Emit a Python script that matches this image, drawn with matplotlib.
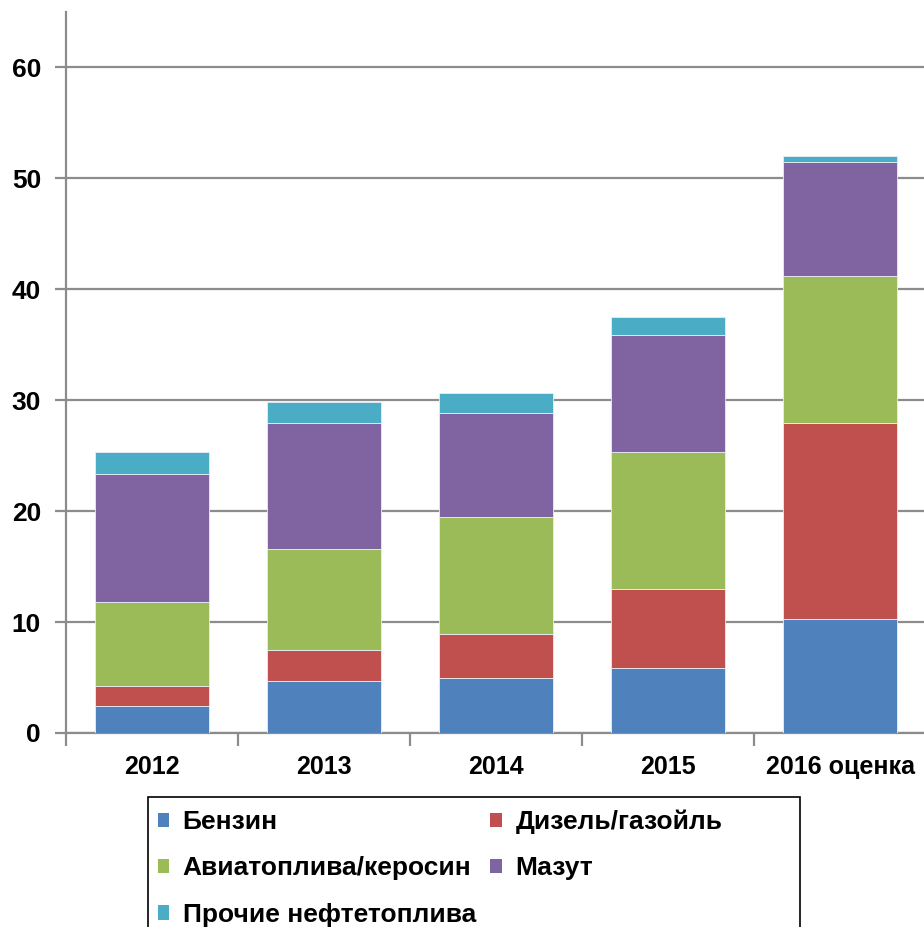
import matplotlib
matplotlib.use('Agg')
import matplotlib.pyplot as plt
import numpy as np
from matplotlib.patches import Patch, Rectangle

plt.rcParams['font.family'] = ['Liberation Sans', 'DejaVu Sans']

# =============================================
# Данные
# =============================================
years = ['2012', '2013', '2014', '2015', '2016 оценка']
benzin = [2.4, 4.65, 4.95, 5.85, 10.3]
dizel = [1.85, 2.8, 4.0, 7.17, 17.62]
avia = [7.53, 9.1, 10.5, 12.33, 13.24]
mazut = [11.59, 11.38, 9.39, 10.53, 10.35]
prochie = [1.93, 1.9, 1.83, 1.62, 0.55]

series = [
    ('Бензин', benzin, '#4F81BD'),
    ('Дизель/газойль', dizel, '#C0504D'),
    ('Авиатоплива/керосин', avia, '#9BBB59'),
    ('Мазут', mazut, '#8064A2'),
    ('Прочие нефтетоплива', prochie, '#4BACC6'),
]

W, H = 924, 927
fig = plt.figure(figsize=(W / 100, H / 100), dpi=100)
ax = fig.add_axes([66/W, 1 - 733/H, 860/W, (733 - 12)/H])

x = np.arange(len(years))
bottom = np.zeros(len(years))
handles = []
for name, vals, color in series:
    ax.bar(x, vals, width=0.66, bottom=bottom, color=color,
           edgecolor='#e8eef5', linewidth=0.6, zorder=3)
    bottom += np.array(vals)
    handles.append(Patch(facecolor=color, label=name))

ax.set_xlim(-0.5, 4.5)
ax.set_ylim(0, 65)
ax.set_yticks([0, 10, 20, 30, 40, 50, 60])
ax.yaxis.grid(True, color='#8c8c8c', linewidth=1.6, zorder=0)

for s in ['top', 'right']:
    ax.spines[s].set_visible(False)
for s in ['left', 'bottom']:
    ax.spines[s].set_color('#8c8c8c')
    ax.spines[s].set_linewidth(1.6)

ax.set_xticks(x)
ax.set_xticklabels(years, fontsize=18, fontweight='bold')
ax.tick_params(axis='x', length=0, pad=16)
ax.set_xticks(np.arange(-0.5, 5.0, 1.0), minor=True)
ax.tick_params(axis='x', which='minor', length=9, width=1.6, color='#8c8c8c')
ax.tick_params(axis='y', length=8, width=1.6, color='#8c8c8c', labelsize=19, pad=10)
for lab in ax.get_yticklabels():
    lab.set_fontweight('bold')

# рамка легенды (обрезана снизу, как в оригинале)
fig.patches.append(Rectangle((148/W, -0.05), (800 - 148)/W, 0.05 + (H - 797)/H,
                             transform=fig.transFigure, fill=False,
                             edgecolor='black', linewidth=1.2))

# порядок по строкам, как в оригинале
order = [0, 2, 4, 1, 3]
leg = fig.legend([handles[i] for i in order], [handles[i].get_label() for i in order],
                 ncol=2, loc='upper left', bbox_to_anchor=(147/W, 1 - 799/H),
                 borderaxespad=0, frameon=False,
                 prop={'weight': 'bold', 'size': 19},
                 handlelength=0.45, handleheight=0.45, handletextpad=0.5,
                 columnspacing=0.55, labelspacing=0.85, borderpad=0.4)

plt.savefig('out.png', dpi=100)
